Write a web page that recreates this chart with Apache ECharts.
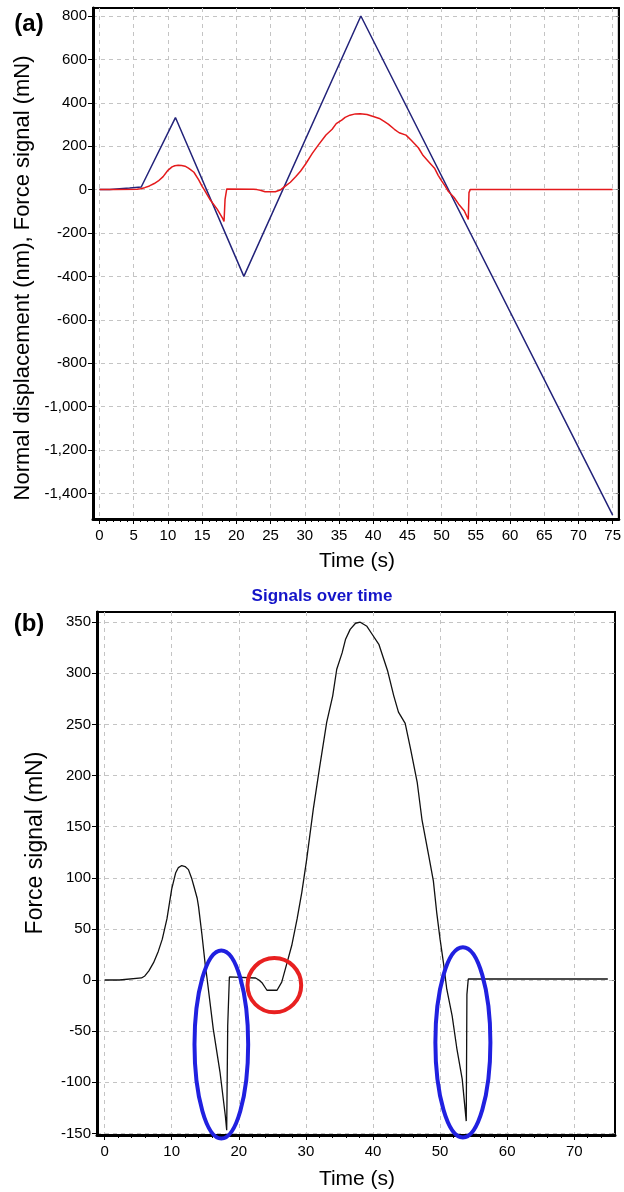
<!DOCTYPE html>
<html>
<head>
<meta charset="utf-8">
<script src="https://cdn.jsdelivr.net/npm/echarts@6/dist/echarts.min.js"></script>
<style>
html,body{margin:0;padding:0;background:#fff;}
#chart{width:624px;height:1192px;}
</style>
</head>
<body>
<div id="chart"></div>
<script>
// ---------- data ----------
// Force signal (mN) over time (s)
const forceTime = [0,2.2,2.4,5.5,6.0,6.6,7.3,8.0,8.6,9.3,10.0,10.6,11.0,11.5,12.0,12.5,13.0,13.3,13.8,14.0,14.5,15.0,15.3,16.2,17.2,18.0,18.2,18.35,18.6,22.5,23.0,23.5,24.2,25.7,26.4,27.2,27.9,28.7,29.4,30.1,31.1,32.0,33.1,34.0,34.6,35.4,35.9,36.6,37.4,38.1,39.1,39.9,40.9,41.6,42.2,43.1,43.8,44.8,45.6,46.6,47.3,48.3,49.0,49.5,50.0,50.5,51.0,51.8,52.5,53.3,53.9,54.0,54.2,75];
const forceValue = [0,0,1,2,4,9,17,28,40,60,89,105,110,112,111,108,99,92,80,72,45,15,0,-48,-90,-133,-147,-45,3,2,0,-3,-10,-10,-2,17,34,60,86,117,167,206,252,278,304,320,333,343,349,350,346,338,328,314,302,278,262,251,226,193,157,122,97,66,40,17,-9,-35,-67,-97,-138,-14,1,1];
// Normal displacement (nm) over time (s)
const dispTime  = [0,1.5,1.6,4.4,4.5,6.1,11.1,21.1,38.2,75];
const dispValue = [0,0,7,7,12,12,332,-400,800,-1500];
// tick labels
const topXTicks = [0,5,10,15,20,25,30,35,40,45,50,55,60,65,70,75];
const topYTicks = [-1400,-1200,-1000,-800,-600,-400,-200,0,200,400,600,800];
const botXTicks = [0,10,20,30,40,50,60,70];
const botYTicks = [-150,-100,-50,0,50,100,150,200,250,300,350];
// annotation marks on panel (b), in data units: centre time, centre force, half-width (s), half-height (mN)
const annoCx = [17.4, 25.3, 53.4];
const annoCy = [-63, -5, -61];
const annoRx = [4.0, 4.0, 4.1];
const annoRy = [92, 26.5, 93];
const annoColor = ['#2020e0', '#e82020', '#2020e0'];

// ---------- chart ----------
const FONT = "'Liberation Sans', Arial, sans-serif";
const pairs = (xs, ys) => xs.map((x, i) => [x, ys[i]]);
const fmtNum = v => (v < 0 ? '-' : '') + String(Math.abs(v)).replace(/\B(?=(\d{3})+(?!\d))/g, ',');
const minorTop = []; for (let i = 0; i <= 75; i++) minorTop.push(i);
const minorBot = []; for (let i = 0; i <= 74; i += 2) minorBot.push(i);

const split = { show: true, lineStyle: { color: '#c4c4c4', width: 1, type: [4, 4] } };
const lbl = (vals, extra) => Object.assign({ customValues: vals, color: '#000', fontSize: 15, fontFamily: FONT }, extra || {});

const chart = echarts.init(document.getElementById('chart'), null, { renderer: 'canvas' });
const option = {
  animation: false,
  backgroundColor: '#fff',
  grid: [
    { left: 93, top: 8, width: 529, height: 511, show: true, borderColor: '#000', borderWidth: 2 },
    { left: 97, top: 612, width: 518, height: 523, show: true, borderColor: '#000', borderWidth: 2 }
  ],
  xAxis: [
    { gridIndex: 0, type: 'value', position: 'bottom', min: -0.95, max: 75.9,
      axisLine: { show: true, onZero: false, lineStyle: { color: '#000', width: 3 } },
      axisTick: { show: true, customValues: topXTicks, length: 5, lineStyle: { color: '#000', width: 1 } },
      axisLabel: lbl(topXTicks, { margin: 9 }),
      splitLine: split },
    { gridIndex: 0, type: 'value', position: 'bottom', min: -0.95, max: 75.9,
      axisLine: { show: false, onZero: false }, axisTick: { show: true, customValues: minorTop, length: 3, lineStyle: { color: '#000' } },
      axisLabel: { show: false }, splitLine: { show: false } },
    { gridIndex: 1, type: 'value', position: 'bottom', min: -1.13, max: 76.07,
      axisLine: { show: true, onZero: false, lineStyle: { color: '#000', width: 3 } },
      axisTick: { show: true, customValues: botXTicks, length: 5, lineStyle: { color: '#000', width: 1 } },
      axisLabel: lbl(botXTicks, { margin: 9 }),
      splitLine: split },
    { gridIndex: 1, type: 'value', position: 'bottom', min: -1.13, max: 76.07,
      axisLine: { show: false, onZero: false }, axisTick: { show: true, customValues: minorBot, length: 3, lineStyle: { color: '#000' } },
      axisLabel: { show: false }, splitLine: { show: false } }
  ],
  yAxis: [
    { gridIndex: 0, type: 'value', position: 'left', min: -1518, max: 837,
      axisLine: { show: true, onZero: false, lineStyle: { color: '#000', width: 3 } },
      axisTick: { show: true, customValues: topYTicks, length: 5, lineStyle: { color: '#000' } },
      axisLabel: lbl(topYTicks, { margin: 6, formatter: fmtNum }),
      splitLine: split },
    { gridIndex: 0, type: 'value', position: 'right', min: -1518, max: 837,
      axisLine: { show: true, onZero: false, lineStyle: { color: '#000', width: 2 } },
      axisTick: { show: true, inside: true, customValues: topYTicks, length: 3, lineStyle: { color: '#888' } },
      axisLabel: { show: false }, splitLine: { show: false } },
    { gridIndex: 1, type: 'value', position: 'left', min: -151.6, max: 360,
      axisLine: { show: true, onZero: false, lineStyle: { color: '#000', width: 3 } },
      axisTick: { show: true, customValues: botYTicks, length: 5, lineStyle: { color: '#000' } },
      axisLabel: lbl(botYTicks, { margin: 6 }),
      splitLine: split },
    { gridIndex: 1, type: 'value', position: 'right', min: -151.6, max: 360,
      axisLine: { show: true, onZero: false, lineStyle: { color: '#000', width: 2 } },
      axisTick: { show: true, inside: true, customValues: botYTicks, length: 3, lineStyle: { color: '#888' } },
      axisLabel: { show: false }, splitLine: { show: false } }
  ],
  series: [
    { name: 'Normal displacement', type: 'line', xAxisIndex: 0, yAxisIndex: 0, data: pairs(dispTime, dispValue),
      showSymbol: false, symbol: 'none', lineStyle: { color: '#23237a', width: 1.5 }, z: 3 },
    { name: 'Force signal', type: 'line', xAxisIndex: 0, yAxisIndex: 0, data: pairs(forceTime, forceValue),
      showSymbol: false, symbol: 'none', lineStyle: { color: '#e41a1c', width: 1.5 }, z: 4 },
    { name: 'Force signal (b)', type: 'line', xAxisIndex: 2, yAxisIndex: 2, data: pairs(forceTime, forceValue),
      showSymbol: false, symbol: 'none', lineStyle: { color: '#111', width: 1.3 }, z: 3 }
  ]
};
chart.setOption(option);

const txt = (text, x, y, font, fill, rot) => ({
  type: 'text', x: x, y: y, rotation: rot || 0, z: 100,
  style: { text: text, font: font, fill: fill || '#000', align: 'center', verticalAlign: 'middle' }
});
const graphics = [
  txt('(a)', 29, 24, 'bold 24px ' + FONT),
  txt('(b)', 29, 624, 'bold 24px ' + FONT),
  txt('Normal displacement (nm), Force signal (mN)', 23, 278, '22px ' + FONT, '#000', Math.PI / 2),
  txt('Time (s)', 357, 561, '21px ' + FONT),
  txt('Signals over time', 322, 596, 'bold 17px ' + FONT, '#1414c8'),
  txt('Force signal (mN)', 36, 843, '23px ' + FONT, '#000', Math.PI / 2),
  txt('Time (s)', 357, 1179, '21px ' + FONT)
];
for (let i = 0; i < annoCx.length; i++) {
  const c = chart.convertToPixel({ gridIndex: 1 }, [annoCx[i], annoCy[i]]);
  const e = chart.convertToPixel({ gridIndex: 1 }, [annoCx[i] + annoRx[i], annoCy[i] + annoRy[i]]);
  graphics.push({
    type: 'ellipse', z: 90,
    shape: { cx: c[0], cy: c[1], rx: Math.abs(e[0] - c[0]), ry: Math.abs(c[1] - e[1]) },
    style: { fill: 'none', stroke: annoColor[i], lineWidth: 4 }
  });
}
chart.setOption({ graphic: graphics });
</script>
</body>
</html>
